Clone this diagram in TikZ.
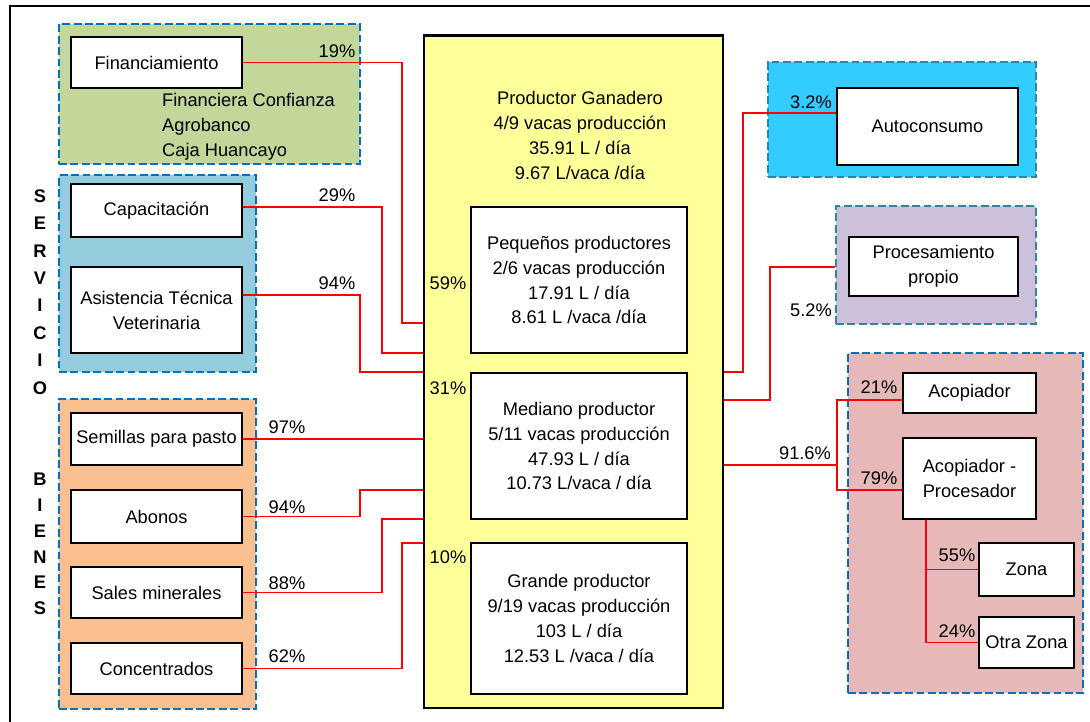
\documentclass[tikz,border=0pt]{standalone}
\usepackage{fontspec}
\setmainfont{Liberation Sans}
\usetikzlibrary{fit}

\definecolor{fingreen}{HTML}{C4D79B}
\definecolor{servblue}{HTML}{93CDDD}
\definecolor{bienorange}{HTML}{FAC090}
\definecolor{autocyan}{HTML}{33CCFF}
\definecolor{proclila}{HTML}{CCC0DA}
\definecolor{acoppink}{HTML}{E6B9B8}
\definecolor{prodyellow}{HTML}{FFFF99}
\definecolor{dashblue}{HTML}{0070C0}
\definecolor{dashteal}{HTML}{31859C}

\tikzset{
  grupo/.style={draw=dashblue, line width=1.5pt, dash pattern=on 4.5pt off 2pt, inner sep=0pt},
  caja/.style={draw, fill=white, line width=1.1pt, inner sep=0pt, align=center},
  enlace/.style={draw=red, line width=1.1pt},
  pct/.style={inner sep=0pt},
}

\begin{document}
\begin{tikzpicture}[x=0.02cm, y=-0.02cm, font=\fontsize{10.4}{14.2}\selectfont]
    \useasboundingbox (0,0) rectangle (1090,722);
    % Marco
    \draw[line width=1.2pt] (10,722) -- (10,6) -- (1090,6);

    % Grupos
    \node[grupo, fill=fingreen, fit={(59,24) (360,164)}] (fingrp) {};
    \node[grupo, fill=servblue, fit={(59,175) (256,372)}] (servgrp) {};
    \node[grupo, fill=bienorange, fit={(59,399) (256,709)}] (biengrp) {};
    \node[grupo, draw=dashteal, fill=autocyan, fit={(768,62) (1036,177)}] (autogrp) {};
    \node[grupo, draw=dashteal, fill=proclila, fit={(836,206) (1036,324)}] (procgrp) {};
    \node[grupo, fill=acoppink, fit={(848,353) (1083,693)}] (acopgrp) {};

    % Productor
    \node[draw, fill=prodyellow, line width=1.7pt, inner sep=0pt, fit={(424,36) (723,708)}] (prod) {};
    \node[align=center] (prodtxt) at (580,135.5) {Productor Ganadero\\4/9 vacas producción\\35.91 L / día\\9.67 L/vaca /día};
    \node[caja, minimum width=4.32cm, minimum height=2.92cm] (peq) at (579,280) {Pequeños productores\\2/6 vacas producción\\17.91 L / día\\8.61 L /vaca /día};
    \node[caja, minimum width=4.32cm, minimum height=2.92cm] (med) at (579,446) {Mediano productor\\5/11 vacas producción\\47.93 L / día\\10.73 L/vaca / día};
    \node[caja, minimum width=4.32cm, minimum height=3.02cm] (gra) at (579,618.5) {Grande productor\\9/19 vacas producción\\103 L / día\\12.53 L /vaca / día};

    % Servicios y bienes
    \node[caja, minimum width=3.42cm, minimum height=1.02cm] (fin) at (156.5,62.5) {Financiamiento};
    \node[anchor=west, align=left] (entid) at (156,127) {Financiera Confianza\\Agrobanco\\Caja Huancayo};
    \node[caja, minimum width=3.42cm, minimum height=1.06cm] (cap) at (156.5,210.5) {Capacitación};
    \node[caja, minimum width=3.42cm, minimum height=1.72cm] (asis) at (156.5,310) {Asistencia Técnica\\Veterinaria};
    \node[caja, minimum width=3.42cm, minimum height=1.04cm] (sem) at (156.5,439) {Semillas para pasto};
    \node[caja, minimum width=3.42cm, minimum height=1.06cm] (abo) at (156.5,516.5) {Abonos};
    \node[caja, minimum width=3.42cm, minimum height=1.02cm] (sal) at (156.5,592.5) {Sales minerales};
    \node[caja, minimum width=3.42cm, minimum height=1.02cm] (con) at (156.5,668.5) {Concentrados};
    \node[align=center, font=\bfseries\fontsize{10.4}{15.6}\selectfont] (servtxt) at (40,292) {S\\E\\R\\V\\I\\C\\I\\O};
    \node[align=center, font=\bfseries\fontsize{10.4}{14.65}\selectfont] (bientxt) at (40,544) {B\\I\\E\\N\\E\\S};

    % Destinos
    \node[caja, minimum width=3.62cm, minimum height=1.54cm] (auto) at (927.5,126.5) {Autoconsumo};
    \node[caja, minimum width=3.38cm, minimum height=1.18cm] (proc) at (933.5,266.5) {Procesamiento\\propio};
    \node[caja, minimum width=2.66cm, minimum height=0.80cm] (acop) at (969.5,393) {Acopiador};
    \node[caja, minimum width=2.66cm, minimum height=1.62cm] (acpr) at (969.5,478.5) {Acopiador -\\Procesador};
    \node[caja, minimum width=1.90cm, minimum height=1.06cm] (zona) at (1026.5,569.5) {Zona};
    \node[caja, minimum width=1.90cm, minimum height=1.02cm] (otra) at (1026.5,642.5) {Otra Zona};

    % Enlaces
    \draw[enlace] (fin.east) -| (402,323) -- (prod.west |- 402,323);
    \draw[enlace] (cap.east |- 0,207) -| (382,353) -- (prod.west |- 382,353);
    \draw[enlace] (asis.east |- 0,295) -| (360,372) -- (prod.west |- 360,372);
    \draw[enlace] (sem.east) -- (prod.west |- sem.east);
    \draw[enlace] (abo.east) -| (360,490) -- (prod.west |- 360,490);
    \draw[enlace] (sal.east) -| (382,519) -- (prod.west |- 382,519);
    \draw[enlace] (con.east) -| (402,543) -- (prod.west |- 402,543);

    \draw[enlace] (prod.east |- 0,372) -| (743,113) -- (auto.west |- 743,113);
    \draw[enlace] (prod.east |- 0,400) -| (770,267) -- (procgrp.west |- 770,267);
    \draw[enlace] (prod.east |- 0,465) -- (837,465);
    \draw[enlace] (acop.west |- 0,400) -| (837,490) -- (acpr.west |- 0,490);
    \draw[enlace] (acpr.south -| 926,0) |- (otra.west);
    \draw[enlace] (zona.west -| 926,0) -- (zona.west);

    % Porcentajes
    \node[pct] (p19) at (337,51) {19\%};
    \node[pct] (p29) at (337,195) {29\%};
    \node[pct] (p94s) at (337,283) {94\%};
    \node[pct] (p97) at (287,427) {97\%};
    \node[pct] (p94b) at (287,507) {94\%};
    \node[pct] (p88) at (287,583) {88\%};
    \node[pct] (p62) at (287,656) {62\%};
    \node[pct] (p59) at (448,283) {59\%};
    \node[pct] (p31) at (448,388) {31\%};
    \node[pct] (p10) at (448,557) {10\%};
    \node[pct] (p32) at (811,102) {3.2\%};
    \node[pct] (p52) at (811,310) {5.2\%};
    \node[pct] (p916) at (805,453) {91.6\%};
    \node[pct] (p21) at (879,387) {21\%};
    \node[pct] (p79) at (879,478) {79\%};
    \node[pct] (p55) at (957,555) {55\%};
    \node[pct] (p24) at (957,631) {24\%};
\end{tikzpicture}
\end{document}
